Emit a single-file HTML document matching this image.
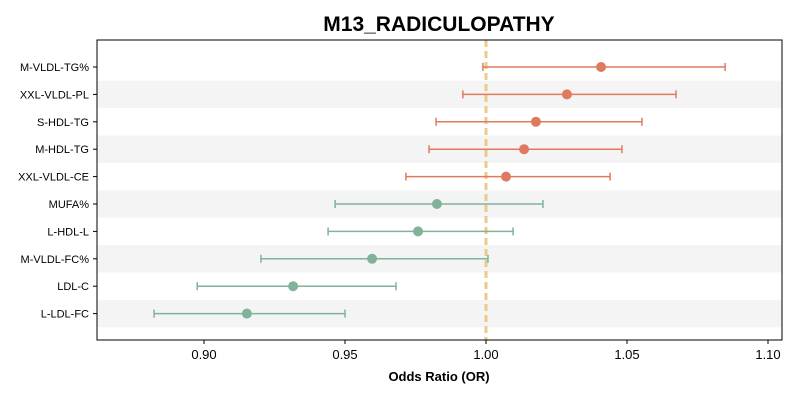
<!DOCTYPE html>
<html><head><meta charset="utf-8"><style>
body{margin:0;background:#fff;}
svg{display:block;font-family:"Liberation Sans",sans-serif;}
</style></head><body>
<svg id="chart" width="800" height="400">
<text x="439" y="31" text-anchor="middle" font-size="21" font-weight="bold">M13_RADICULOPATHY</text>
<g id="bands"></g>
<line id="refline" stroke="#EDC98C" stroke-width="3" stroke-dasharray="7,4"></line>
<g id="marks"></g>
<rect x="97" y="40" width="685" height="300" fill="none" stroke="#000" stroke-width="1"/>
<g id="xticks"></g>
<g id="ylabels"></g>
<text x="439" y="381" text-anchor="middle" font-size="13" font-weight="bold">Odds Ratio (OR)</text>
</svg>
<script>
const labels=["M-VLDL-TG%","XXL-VLDL-PL","S-HDL-TG","M-HDL-TG","XXL-VLDL-CE","MUFA%","L-HDL-L","M-VLDL-FC%","LDL-C","L-LDL-FC"];
const orValues=[1.0408,1.0287,1.0177,1.0135,1.0071,0.9826,0.9759,0.9596,0.9316,0.9152];
const ciLow=[0.9989,0.9918,0.9823,0.9798,0.9716,0.9465,0.9440,0.9202,0.8976,0.8823];
const ciHigh=[1.0848,1.0674,1.0553,1.0482,1.0440,1.0202,1.0096,1.0007,0.9681,0.9500];
const xTicks=[0.90,0.95,1.00,1.05,1.10];
const NS="http://www.w3.org/2000/svg";
const x=v=>204+(v-0.90)*2820;
const y=i=>67+i*27.4;
function mk(t,a,p){const e=document.createElementNS(NS,t);for(const k in a)e.setAttribute(k,a[k]);p.appendChild(e);return e;}
const bands=document.getElementById('bands'),marks=document.getElementById('marks'),xt=document.getElementById('xticks'),yl=document.getElementById('ylabels');
labels.forEach((l,i)=>{
  if(i%2==1){const b=mk('rect',{x:97,y:y(i)-13.7,width:685,height:27.4,fill:'#F4F4F4'},bands);
    
    }
  const c=orValues[i]>=1?'#E07A5F':'#81B29A';
  const g=mk('g',{},marks);
  
  
  mk('line',{x1:x(ciLow[i]),x2:x(ciHigh[i]),y1:y(i),y2:y(i),stroke:c,'stroke-width':1.5},g);
  mk('line',{x1:x(ciLow[i]),x2:x(ciLow[i]),y1:y(i)-4,y2:y(i)+4,stroke:c,'stroke-width':1.5},g);
  mk('line',{x1:x(ciHigh[i]),x2:x(ciHigh[i]),y1:y(i)-4,y2:y(i)+4,stroke:c,'stroke-width':1.5},g);
  mk('circle',{cx:x(orValues[i]),cy:y(i),r:5,fill:c},g);
  mk('line',{x1:93,x2:97,y1:y(i),y2:y(i),stroke:'#000'},yl);
  const t=mk('text',{x:89,y:y(i)+4,'text-anchor':'end','font-size':11},yl);t.textContent=l;
  
  
});
const r=document.getElementById('refline');
r.setAttribute('x1',x(1));r.setAttribute('x2',x(1));r.setAttribute('y1',40);r.setAttribute('y2',340);
xTicks.forEach(v=>{
  mk('line',{x1:x(v),x2:x(v),y1:340,y2:344,stroke:'#000'},xt);
  const t=mk('text',{x:x(v),y:359,'text-anchor':'middle','font-size':13},xt);t.textContent=v.toFixed(2);
  
  
});
</script>
</body></html>
